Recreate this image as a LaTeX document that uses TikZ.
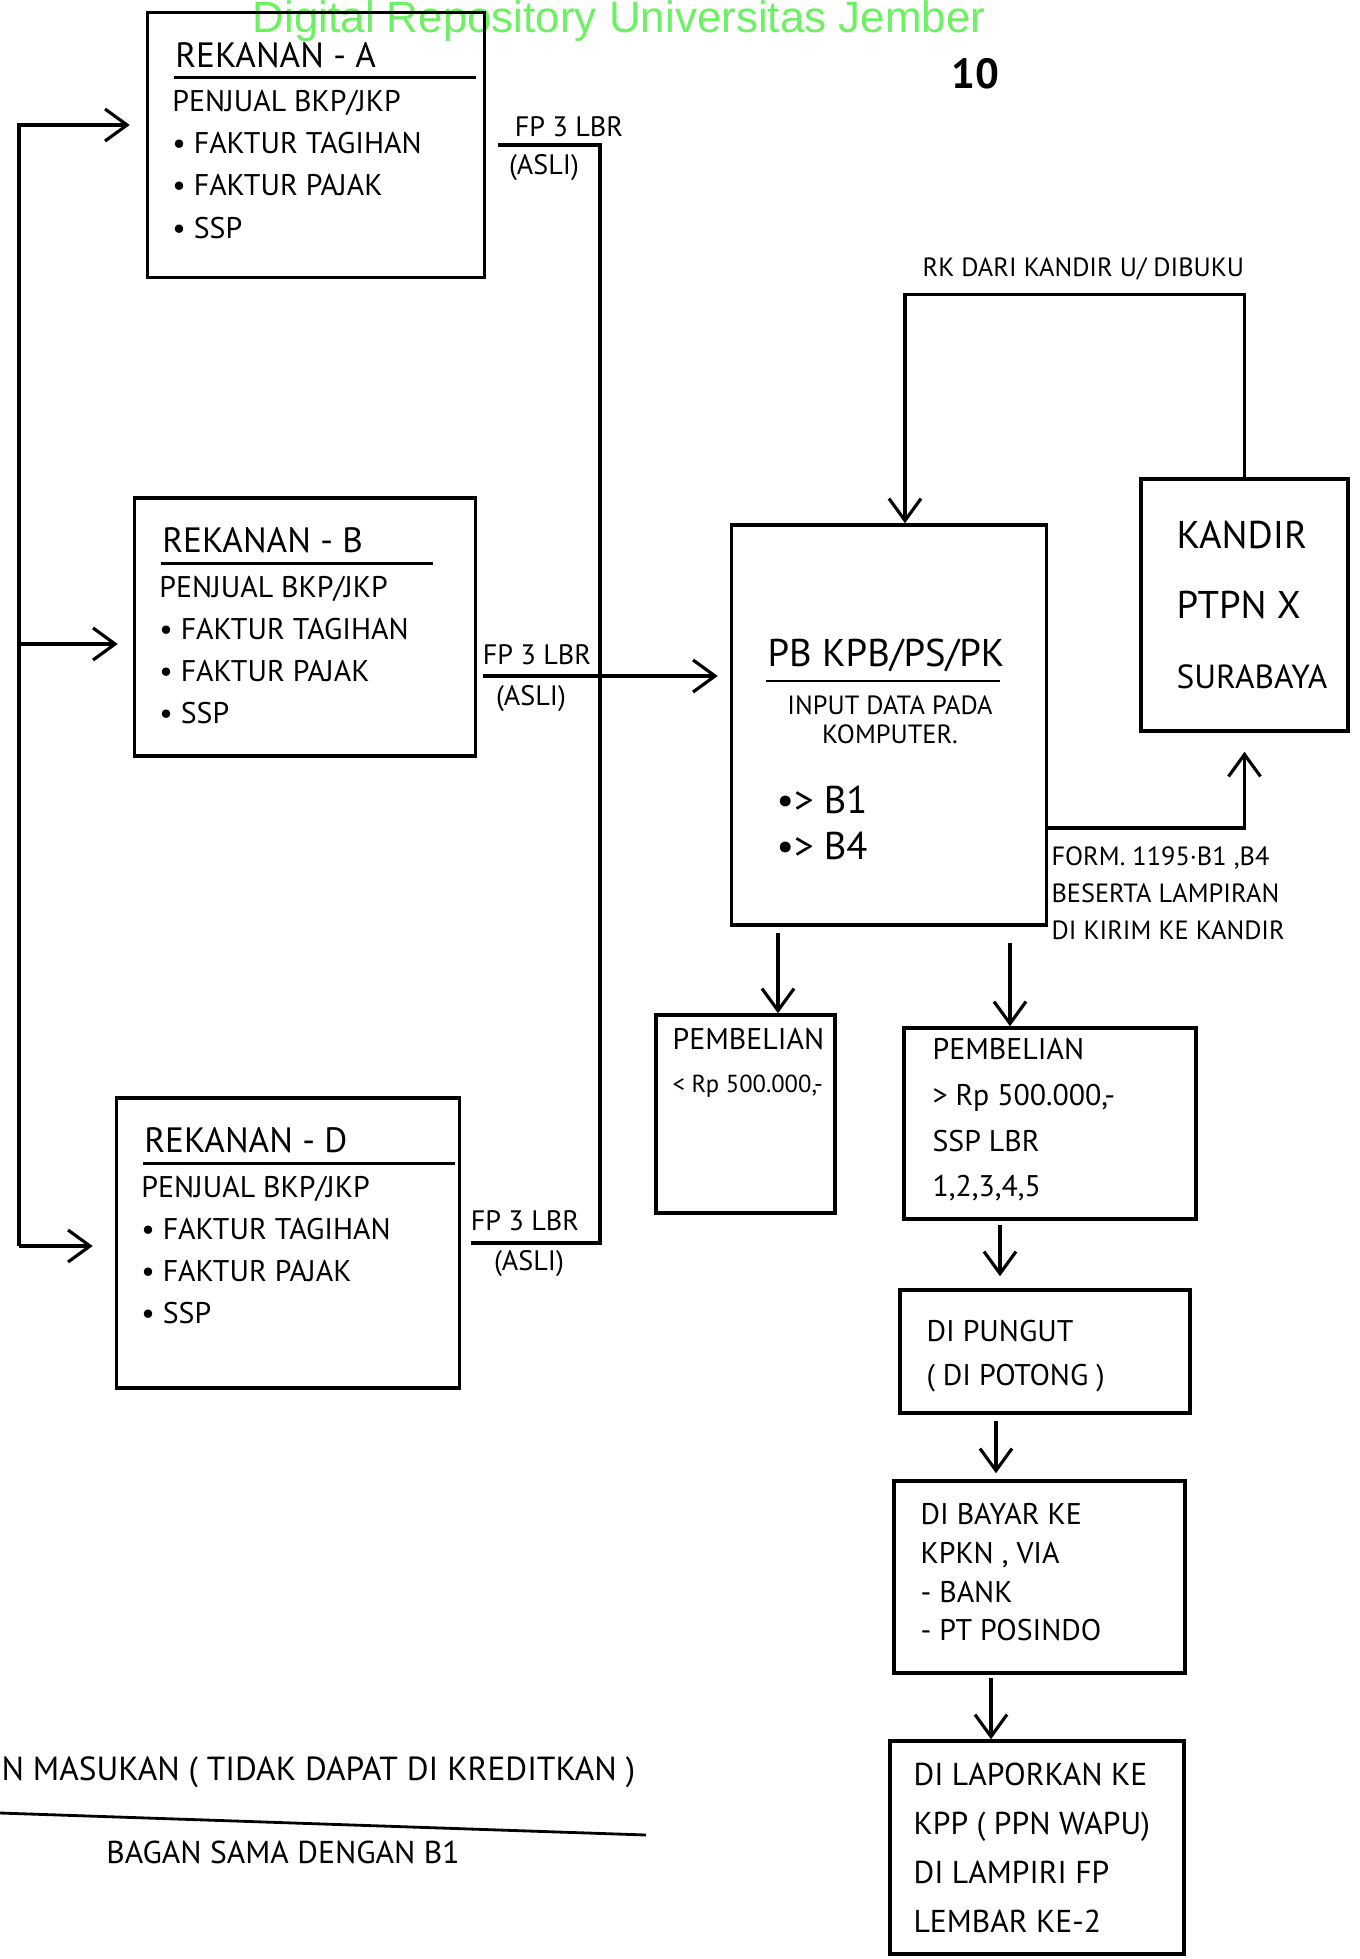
\documentclass[tikz,border=0pt]{standalone}
\usepackage{fontspec}
\setmainfont{PT Sans}
\newfontfamily\wmfont{Liberation Sans}
\usetikzlibrary{positioning, arrows.meta}
\definecolor{wmgreen}{RGB}{110,240,100}

\begin{document}
\begin{tikzpicture}[
    >={Straight Barb[length=2.2mm,width=3.2mm]},
    line width=0.9pt,
    font=\fontsize{8.5}{12}\selectfont,
    every node/.style={align=left, inner sep=0pt},
    kotak/.style={draw, line width=1pt},
    judul/.style={font=\fontsize{10}{12}\selectfont},
    isi/.style={anchor=north west, font=\fontsize{8.5}{12}\selectfont},
    ket/.style={font=\fontsize{7.5}{10.5}\selectfont},
    fp/.style={font=\fontsize{8}{10}\selectfont}
]

\useasboundingbox (0,0) rectangle (13.6,-19.59);

% =================================================
% KOP HALAMAN
% =================================================

\node[
    anchor=base,
    text=wmgreen,
    font=\wmfont\fontsize{12.5}{12.5}\selectfont
] (repo) at (6.19,-0.325)
{Digital Repository Universitas Jember};

\node[
    font=\fontsize{12}{12}\selectfont\bfseries
] (halaman) at (9.75,-0.74)
{10};

% =================================================
% REKANAN A, B, D
% =================================================

\foreach \id/\cx/\cy/\w/\h/\ul in {
    A/3.16/-1.45/3.37/2.65/3.02,
    B/3.05/-6.27/3.41/2.58/2.72,
    D/2.88/-12.43/3.43/2.90/3.12
}{

    % Box
    \node[
        kotak,
        minimum width=\w cm,
        minimum height=\h cm
    ] (rek\id) at (\cx,\cy) {};

    % Title + underline
    \node[
        judul,
        anchor=west
    ] (judul\id) at ([xshift=0.28cm, yshift=-0.44cm]rek\id.north west)
    {REKANAN - \id};

    \draw[line width=0.8pt]
    ([xshift=0.28cm, yshift=-0.67cm]rek\id.north west) -- ++(\ul,0);

    % Content
    \node[isi] (isi\id) at ([xshift=0.25cm, yshift=-0.78cm]rek\id.north west)
    {PENJUAL BKP/JKP\\
    • FAKTUR TAGIHAN\\
    • FAKTUR PAJAK\\
    • SSP};
}

% Feedback line on the left
\coordinate (kiri) at (0.19,-12.46);

\draw[->, shorten >=1.6mm] (kiri) |- ([yshift=0.2cm]rekA.west);
\draw[->, shorten >=1.5mm] ([yshift=-0.17cm]rekB.west -| kiri) -- ([yshift=-0.17cm]rekB.west);
\draw[->, shorten >=2.2mm] (kiri) -- (kiri -| rekD.west);

% =================================================
% PB KPB/PS/PK
% =================================================

\node[
    kotak,
    minimum width=3.15cm,
    minimum height=4.00cm
] (pb) at (8.89,-7.25) {};

\node[
    anchor=west,
    font=\fontsize{11}{13}\selectfont
] (judulPB) at (7.66,-6.55)
{PB KPB/PS/PK};

\draw[line width=0.8pt] (7.66,-6.81) -- (10.0,-6.81);

\node[
    align=center,
    font=\fontsize{7.5}{8.3}\selectfont
] (input) at (8.9,-7.2)
{INPUT DATA PADA\\KOMPUTER.};

\node[
    anchor=west,
    font=\fontsize{11}{13}\selectfont
] (b1) at (7.75,-8.0)
{•> B1};

\node[
    anchor=west,
    font=\fontsize{11}{13}\selectfont
] (b4) at (7.75,-8.46)
{•> B4};

% FP lines into PB
\coordinate (gabung) at (6.0,-6.76);

\draw[shorten <=1.2mm] (rekA.east) -| (gabung);
\draw[shorten <=1mm] (rekD.east) -| (gabung);
\draw[->, shorten <=0.6mm, shorten >=1.2mm] (gabung -| rekB.east) -- (gabung -| pb.west);

\node[fp] (fpA) at (5.69,-1.27) {FP 3 LBR};
\node[fp] (asliA) at (5.44,-1.68) {(ASLI)};
\node[fp] (fpB) at (5.37,-6.55) {FP 3 LBR};
\node[fp] (asliB) at (5.31,-6.99) {(ASLI)};
\node[fp] (fpD) at (5.25,-12.21) {FP 3 LBR};
\node[fp] (asliD) at (5.29,-12.64) {(ASLI)};

% =================================================
% KANDIR
% =================================================

\node[
    kotak,
    minimum width=2.07cm,
    minimum height=2.52cm
] (kandir) at (12.445,-6.05) {};

\node[
    anchor=west,
    font=\fontsize{11}{20}\selectfont
] (isiKandir) at (11.75,-6.05)
{KANDIR\\PTPN X\\\fontsize{9.5}{20}\selectfont SURABAYA};

\draw[->] (kandir.north) -- ++(0,1.83) -| ([xshift=0.16cm]pb.north);

\node[
    ket,
    anchor=west
] (rk) at (9.21,-2.69)
{RK DARI KANDIR U/ DIBUKU};

\draw[->, shorten >=1.9mm] ([yshift=-1.03cm]pb.east) -| (kandir.south);

\node[
    ket,
    anchor=north west
] (form) at (10.5,-8.45)
{FORM. 1195·B1 ,B4\\
BESERTA LAMPIRAN\\
DI KIRIM KE KANDIR};

% =================================================
% PEMBELIAN
% =================================================

\node[
    kotak,
    minimum width=1.79cm,
    minimum height=1.98cm
] (pemKecil) at (7.455,-11.14) {};

\node[isi] (isiKecil) at (6.71,-10.27)
{PEMBELIAN\\
\fontsize{7}{12}\selectfont < Rp 500.000,-};

\node[
    kotak,
    minimum width=2.92cm,
    minimum height=1.91cm
] (pemBesar) at (10.50,-11.235) {};

\node[
    isi,
    font=\fontsize{8.5}{13}\selectfont
] (isiBesar) at (9.31,-10.37)
{PEMBELIAN\\
> Rp 500.000,-\\
SSP LBR\\
1,2,3,4,5};

\draw[->, shorten <=0.6mm] ([xshift=-1.11cm]pb.south) -- ([xshift=-1.11cm]pb.south |- pemKecil.north);
\draw[->, shorten <=1.6mm] ([xshift=1.21cm]pb.south) -- ([xshift=1.21cm]pb.south |- pemBesar.north);

% =================================================
% ALUR SETORAN
% =================================================

\node[
    kotak,
    minimum width=2.90cm,
    minimum height=1.23cm
] (pungut) at (10.45,-13.515) {};

\node[
    isi,
    font=\fontsize{8.5}{12.3}\selectfont
] (isiPungut) at (9.25,-13.19)
{DI PUNGUT\\
( DI POTONG )};

\node[
    kotak,
    minimum width=2.91cm,
    minimum height=1.92cm
] (bayar) at (10.395,-15.77) {};

\node[
    isi,
    font=\fontsize{8.5}{11}\selectfont
] (isiBayar) at (9.19,-15.02)
{DI BAYAR KE\\
KPKN , VIA\\
- BANK\\
- PT POSINDO};

\node[
    kotak,
    minimum width=2.94cm,
    minimum height=2.13cm
] (lapor) at (10.37,-18.475) {};

\node[
    isi,
    font=\fontsize{9}{14}\selectfont
] (isiLapor) at (9.12,-17.61)
{DI LAPORKAN KE\\
KPP ( PPN WAPU)\\
DI LAMPIRI FP\\
LEMBAR KE-2};

\draw[->, shorten <=0.4mm, shorten >=1.2mm] ([xshift=-0.5cm]pemBesar.south) -- ([xshift=-0.5cm]pemBesar.south |- pungut.north);
\draw[->, shorten <=0.6mm, shorten >=0.6mm] ([xshift=-0.49cm]pungut.south) -- ([xshift=-0.49cm]pungut.south |- bayar.north);
\draw[->, shorten <=0.3mm] ([xshift=-0.485cm]bayar.south) -- ([xshift=-0.485cm]bayar.south |- lapor.north);

% =================================================
% CATATAN BAWAH
% =================================================

\node[
    anchor=west,
    font=\fontsize{9.5}{11}\selectfont
] (masukan) at (0,-17.72)
{N MASUKAN ( TIDAK DAPAT DI KREDITKAN )};

\draw[line width=0.8pt] (0,-18.13) -- (6.46,-18.35);

\node[
    font=\fontsize{9}{11}\selectfont
] (bagan) at (2.83,-18.52)
{BAGAN SAMA DENGAN B1};

\end{tikzpicture}
\end{document}
